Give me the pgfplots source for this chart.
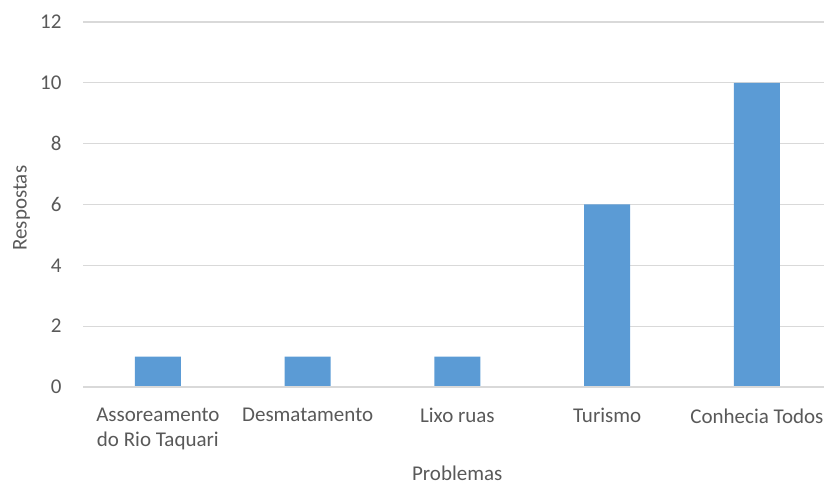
\documentclass[border=0pt]{standalone}
\usepackage{pgfplots}
\pgfplotsset{compat=1.18}
\usepackage{fontspec}
\setmainfont{Carlito}
\definecolor{barblue}{HTML}{5B9BD5}
\definecolor{txt}{HTML}{595959}
\definecolor{grd}{HTML}{D9D9D9}
\begin{document}
\begin{tikzpicture}[x=1bp,y=1bp]
\begin{axis}[
  at={(83bp,101bp)}, anchor=south west,
  scale only axis, width=741bp, height=365bp,
  xmin=-0.5, xmax=4.448, ymin=0, ymax=12,
  ytick={0,2,...,12},
  xtick={0,1,2,3,4},
  xticklabels={{Assoreamento\\do Rio Taquari},Desmatamento,Lixo ruas,Turismo,Conhecia Todos},
  xticklabel style={align=center, font=\fontsize{21bp}{25bp}\selectfont, text=txt, yshift=-18bp},
  yticklabel style={font=\fontsize{21bp}{25bp}\selectfont, text=txt, xshift=-18bp},
  /pgf/number format/assume math mode=true,
  major tick length=0pt,
  ymajorgrids, grid style={grd, line width=1.2bp},
  axis line style={draw=none},
  axis x line*=bottom,
  ylabel={Respostas}, xlabel={Problemas},
  label style={font=\fontsize{21bp}{25bp}\selectfont, text=txt},
  ylabel style={at={(axis description cs:-0.083,0.49)}, anchor=center},
  xlabel style={at={(axis description cs:0.505,0)}, anchor=north, yshift=-75bp},
  clip=false,
]
\addplot[ybar, bar width=46bp, fill=barblue, draw=none] coordinates {(0,1) (1,1) (2,1) (3,6) (4,10)};
\draw[grd, line width=1.2bp] (axis cs:-0.5,0) -- (axis cs:4.448,0);
\end{axis}
\pgfresetboundingbox
\useasboundingbox (0,0) rectangle (824bp,488bp);
\end{tikzpicture}
\end{document}
